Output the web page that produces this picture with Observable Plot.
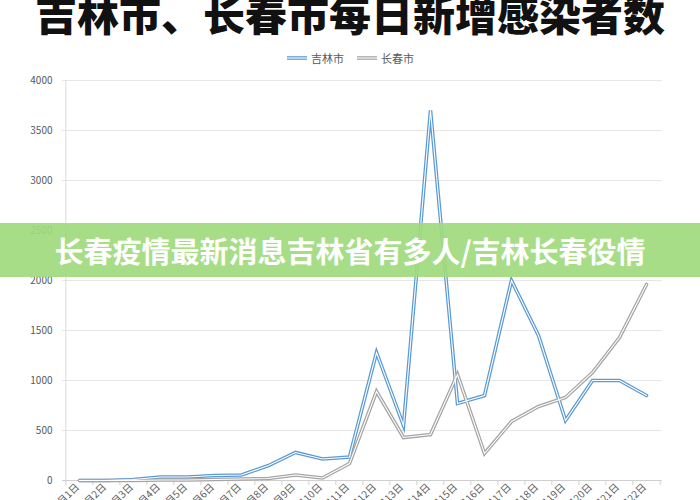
<!DOCTYPE html>
<html>
<head>
<meta charset="utf-8">
<script src="https://cdn.jsdelivr.net/npm/d3@7"></script>
<script src="https://cdn.jsdelivr.net/npm/@observablehq/plot@0.6"></script>
<style>
  html, body { margin: 0; padding: 0; background: #fff; }
  #wrap { position: relative; width: 700px; height: 500px; overflow: hidden; font-family: "Noto Sans CJK SC", "Noto Sans", sans-serif; }
  #title { position: absolute; left: 0; top: -12px; width: 700px; text-align: center; font-size: 42px; font-weight: 900; color: #111; letter-spacing: 0px; white-space: nowrap; line-height: 50px; }
  #legend { position: absolute; left: 0; top: 50px; width: 700px; display: flex; justify-content: center; align-items: center; gap: 12px; font-size: 11px; color: #595959; }
  #legend .item { display: flex; align-items: center; gap: 3px; }
  #chart { position: absolute; left: 0; top: 70px; }
  #banner { position: absolute; left: 0; top: 223px; width: 700px; height: 54px; background: rgba(160, 218, 125, 0.92); color: #fff; font-size: 29px; font-weight: 700; text-align: center; line-height: 54px; white-space: nowrap; }
</style>
</head>
<body>
<div id="wrap">
  <div id="title">吉林市、长春市每日新增感染者数</div>
  <div id="legend"></div>
  <div id="chart"></div>
  <div id="banner">长春疫情最新消息吉林省有多人/吉林长春役情</div>
</div>
<script>
const dates = ["3月1日","3月2日","3月3日","3月4日","3月5日","3月6日","3月7日","3月8日","3月9日","3月10日","3月11日",
               "3月12日","3月13日","3月14日","3月15日","3月16日","3月17日","3月18日","3月19日","3月20日","3月21日","3月22日"];
const jilin = [0, 0, 10, 35, 35, 50, 55, 150, 280, 215, 235, 1280, 550, 3700, 770, 850, 2000, 1450, 600, 1000, 1000, 850];
const changchun = [0, 0, 0, 5, 5, 10, 15, 20, 55, 25, 170, 890, 430, 460, 1060, 270, 590, 740, 830, 1080, 1430, 1960];
const seriesNames = ["吉林市", "长春市"];
const seriesColors = ["#5b9bd5", "#a5a5a5"];
const yTicks = [0, 500, 1000, 1500, 2000, 2500, 3000, 3500, 4000];

const rows = [];
[jilin, changchun].forEach((vals, s) => {
  vals.forEach((v, i) => rows.push({date: dates[i], value: v, city: seriesNames[s]}));
});

// legend
const legend = document.getElementById("legend");
seriesNames.forEach((n, i) => {
  const item = document.createElement("div");
  item.className = "item";
  item.innerHTML = `<svg width="22" height="8"><line x1="1" x2="21" y1="4" y2="4" stroke="${seriesColors[i]}" stroke-width="3.6"/><line x1="1" x2="21" y1="4" y2="4" stroke="#fff" stroke-width="1.1"/></svg><span>${n}</span>`;
  legend.appendChild(item);
});

const W = 700, mL = 62, mR = 38;
const step = (W - mL - mR) / dates.length;

const chart = Plot.plot({
  width: W,
  height: 450,
  marginLeft: mL,
  marginRight: mR,
  marginTop: 10,
  marginBottom: 40,
  style: {fontFamily: "'Noto Sans CJK SC', 'Noto Sans', sans-serif", background: "transparent", color: "#595959"},
  x: {type: "point", domain: dates, padding: 0.5, label: null},
  y: {domain: [0, 4000], label: null},
  color: {domain: seriesNames, range: seriesColors},
  marks: [
    Plot.ruleY(yTicks, {stroke: "#e6e6e6", strokeWidth: 1}),
    Plot.ruleX([dates[0]], {dx: -step / 2, stroke: "#d9d9d9"}),
    Plot.ruleY([0], {stroke: "#d0d0d0"}),
    Plot.ruleX(dates, {x: d => d, dx: -step / 2, y1: 0, y2: 0, insetBottom: -5, stroke: "#d0d0d0"}),
    Plot.ruleX([dates[dates.length - 1]], {dx: step / 2, y1: 0, y2: 0, insetBottom: -5, stroke: "#d0d0d0"}),
    Plot.axisY({ticks: yTicks, tickSize: 0, tickPadding: 10, fontSize: 10, label: null, tickFormat: d => String(d)}),
    Plot.axisX({tickSize: 0, tickPadding: 5, tickRotate: -45, fontSize: 10, label: null, dx: -2}),
    Plot.line(rows, {x: "date", y: "value", z: "city", stroke: "city", strokeWidth: 3.6, strokeLinejoin: "miter", strokeMiterlimit: 10}),
    Plot.line(rows, {x: "date", y: "value", z: "city", stroke: "#fff", strokeWidth: 1.1, strokeLinejoin: "miter", strokeMiterlimit: 10})
  ]
});
document.getElementById("chart").appendChild(chart);
</script>
</body>
</html>
